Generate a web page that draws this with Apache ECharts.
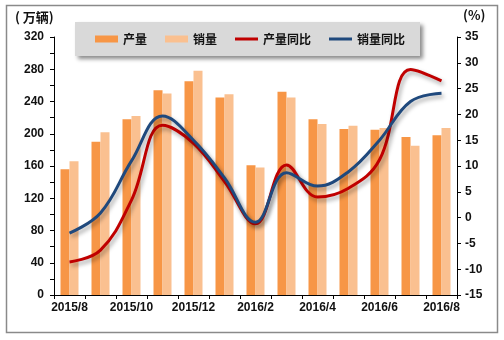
<!DOCTYPE html>
<html>
<head>
<meta charset="utf-8">
<script src="https://cdn.jsdelivr.net/npm/echarts@6/dist/echarts.min.js"></script>
<style>
html,body{margin:0;padding:0;background:#fff;}
#chart{width:504px;height:340px;}
</style>
</head>
<body>
<div id="chart"></div>
<script>
const categories = ['2015/8','2015/9','2015/10','2015/11','2015/12','2016/1','2016/2','2016/3','2016/4','2016/5','2016/6','2016/7','2016/8'];
const production = [156, 190, 218, 254, 265, 245, 161, 252, 218, 206, 205, 196, 198];
const sales      = [166, 202, 222, 250, 278, 249, 158, 245, 212, 210, 207, 185, 207];
const productionYoY = [-8.6, -6.3, 3.4, 17.9, 14.4, 7.0, -1.2, 10.2, 4.0, 5.7, 11.2, 28.7, 26.5];
const salesYoY      = [-3.0, 0.9, 11.0, 19.7, 15.0, 7.7, -0.9, 8.7, 6.1, 8.9, 15.0, 22.5, 24.1];
const leftTicks = {min: 0, max: 320, interval: 40};
const rightTicks = {min: -15, max: 35, interval: 5};
const leftUnit = '( 万辆)';
const rightUnit = '(%)';

const font = '"Liberation Sans", Arial, sans-serif';
const cjk = '"Noto Sans CJK SC", sans-serif';
const chart = echarts.init(document.getElementById('chart'), null, {renderer: 'canvas'});
const lineShadow = {shadowColor: 'rgba(0,0,0,0.35)', shadowBlur: 4, shadowOffsetX: 2, shadowOffsetY: 3};
const lineIcon = 'path://M0,0L0,0.01Z M0,2L23,2L23,5L0,5Z M23,7L23,6.99Z';

chart.setOption({
  animation: false,
  backgroundColor: '#fff',
  graphic: [{
    type: 'rect', z: -10,
    shape: {x: 6.5, y: 5.5, width: 491, height: 327},
    style: {fill: '#fff', stroke: '#8a8a8a', lineWidth: 1.5}
  }, {
    type: 'text', left: 15, top: 11,
    style: {text: leftUnit, font: 'bold 13px "Noto Sans CJK SC", sans-serif', fill: '#111'}
  }, {
    type: 'text', left: 463, top: 9,
    style: {text: rightUnit, font: 'bold 13px "Noto Sans CJK SC", sans-serif', fill: '#111'}
  }],
  grid: {left: 54, right: 47, top: 37, bottom: 45, containLabel: false},
  legend: {
    left: 75, top: 22,
    padding: [11, 15, 11, 20],
    backgroundColor: '#d9d9d9',
    shadowColor: 'rgba(0,0,0,0.45)', shadowBlur: 4, shadowOffsetX: 3, shadowOffsetY: 3,
    itemWidth: 23, itemHeight: 7, itemGap: 18,
    textStyle: {fontFamily: cjk, fontWeight: 'bold', fontSize: 12, color: '#111'},
    data: [
      {name: '产量', icon: 'rect'},
      {name: '销量', icon: 'rect'},
      {name: '产量同比', icon: lineIcon},
      {name: '销量同比', icon: lineIcon}
    ]
  },
  xAxis: {
    type: 'category',
    data: categories,
    axisLine: {lineStyle: {color: '#000', width: 1}},
    axisTick: {show: true, interval: 0, alignWithLabel: false, length: 4, lineStyle: {color: '#000'}},
    axisLabel: {interval: 1, margin: 7, fontFamily: font, fontWeight: 'bold', fontSize: 12, color: '#111'},
    splitLine: {show: false}
  },
  yAxis: [{
    type: 'value',
    min: leftTicks.min, max: leftTicks.max, interval: leftTicks.interval,
    axisLine: {show: true, lineStyle: {color: '#000', width: 1}},
    axisTick: {show: true, length: 4, lineStyle: {color: '#000'}},
    minorTick: {show: true, splitNumber: 2, length: 4, lineStyle: {color: '#000'}},
    axisLabel: {margin: 10, fontFamily: font, fontWeight: 'bold', fontSize: 12, color: '#111'},
    splitLine: {show: false}
  }, {
    type: 'value',
    position: 'right',
    min: rightTicks.min, max: rightTicks.max, interval: rightTicks.interval,
    axisLine: {show: true, lineStyle: {color: '#000', width: 1}},
    axisTick: {show: true, length: 4, lineStyle: {color: '#000'}},
    axisLabel: {margin: 8, fontFamily: font, fontWeight: 'bold', fontSize: 12, color: '#111'},
    splitLine: {show: false}
  }],
  series: [{
    name: '产量', type: 'bar', data: production, yAxisIndex: 0,
    barWidth: 9, barGap: '0%',
    itemStyle: {color: '#F79646'}
  }, {
    name: '销量', type: 'bar', data: sales, yAxisIndex: 0,
    barWidth: 9, barGap: '0%',
    itemStyle: {color: '#FAC090'}
  }, {
    name: '产量同比', type: 'line', data: productionYoY, yAxisIndex: 1,
    smooth: 0.4, symbol: 'none', z: 5,
    itemStyle: {color: '#C00000'},
    lineStyle: Object.assign({color: '#C00000', width: 3}, lineShadow)
  }, {
    name: '销量同比', type: 'line', data: salesYoY, yAxisIndex: 1,
    smooth: 0.4, symbol: 'none', z: 6,
    itemStyle: {color: '#1F497D'},
    lineStyle: Object.assign({color: '#1F497D', width: 3}, lineShadow)
  }]
});
</script>
</body>
</html>
